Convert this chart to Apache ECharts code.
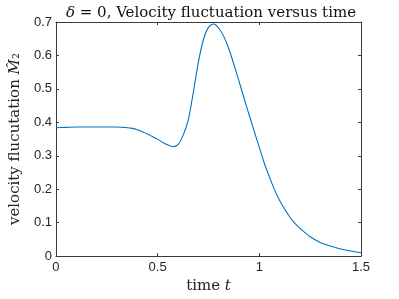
<!DOCTYPE html>
<html>
<head>
<meta charset="utf-8">
<script src="https://cdn.jsdelivr.net/npm/echarts@6/dist/echarts.min.js"></script>
<style>html,body{margin:0;padding:0;background:#fff;}#c{width:399px;height:299px;}</style>
</head>
<body>
<div id="c"></div>
<script>
var timeValues = [0.000,0.050,0.100,0.150,0.200,0.250,0.300,0.350,0.375,0.400,0.425,0.450,0.475,0.500,0.525,0.550,0.575,0.600,0.625,0.650,0.675,0.700,0.725,0.750,0.775,0.800,0.825,0.850,0.875,0.900,0.925,0.950,0.975,1.000,1.025,1.050,1.075,1.100,1.125,1.150,1.175,1.200,1.250,1.300,1.350,1.400,1.450,1.500];
var fluctValues = [0.384,0.385,0.386,0.386,0.386,0.386,0.386,0.384,0.382,0.378,0.372,0.365,0.357,0.349,0.340,0.332,0.327,0.333,0.361,0.406,0.488,0.579,0.647,0.684,0.694,0.682,0.657,0.620,0.573,0.523,0.472,0.422,0.373,0.325,0.277,0.236,0.198,0.166,0.140,0.117,0.098,0.083,0.058,0.041,0.030,0.021,0.015,0.010];
var xTicks = ['0','0.5','1','1.5'];
var yTicks = ['0','0.1','0.2','0.3','0.4','0.5','0.6','0.7'];
var titleText = '{i|δ} = 0, Velocity fluctuation versus time';
var xName = 'time {i|t}';
var yName = 'velocity flucutation {i|M̂}₂';

var data = timeValues.map(function(t,i){return [t, fluctValues[i]];});
var axisColor = '#3a3a3a';
var serif = '"DejaVu Serif","Liberation Serif",serif';
var sans = '"Liberation Sans",Arial,sans-serif';
var chart = echarts.init(document.getElementById('c'), null, {renderer:'canvas'});
function fmtX(v){ var s = String(+v.toFixed(2)); return xTicks.indexOf(s)>=0 ? s : ''; }
function fmtY(v){ var s = String(+v.toFixed(2)); return yTicks.indexOf(s)>=0 ? s : ''; }
var nameStyle = {fontFamily:serif,fontSize:15,color:'#222',rich:{i:{fontFamily:serif,fontStyle:'italic',fontSize:15,color:'#222'}}};
chart.setOption({
  animation:false,
  title:{text:titleText,left:206,textAlign:'center',top:1,
    textStyle:{fontFamily:serif,fontSize:15,fontWeight:'normal',color:'#111',
      rich:{i:{fontFamily:serif,fontStyle:'italic',fontSize:15,color:'#111'}}}},
  grid:{left:52,right:38,top:22,bottom:38,containLabel:false},
  xAxis:[{type:'value',min:0,max:1.5,interval:0.5,position:'bottom',
    name:xName,nameLocation:'middle',nameGap:19,nameTextStyle:nameStyle,
    axisLine:{show:true,lineStyle:{color:axisColor,width:1}},
    axisTick:{show:true,inside:true,length:3,lineStyle:{color:axisColor}},
    axisLabel:{formatter:fmtX,margin:5,fontFamily:sans,fontSize:13,color:'#262626'},
    splitLine:{show:false}},
   {type:'value',min:0,max:1.5,interval:0.5,position:'top',
    axisLine:{show:true,onZero:false,lineStyle:{color:axisColor,width:1}},
    axisTick:{show:true,inside:true,length:3,lineStyle:{color:axisColor}},
    axisLabel:{show:false},splitLine:{show:false}}],
  yAxis:[{type:'value',min:0,max:0.7,interval:0.1,position:'left',
    name:yName,nameLocation:'middle',nameGap:26,nameTextStyle:nameStyle,
    axisLine:{show:true,lineStyle:{color:axisColor,width:1}},
    axisTick:{show:true,inside:true,length:3,lineStyle:{color:axisColor}},
    axisLabel:{formatter:fmtY,margin:4,fontFamily:sans,fontSize:13,color:'#262626'},
    splitLine:{show:false}},
   {type:'value',min:0,max:0.7,interval:0.1,position:'right',
    axisLine:{show:true,onZero:false,lineStyle:{color:axisColor,width:1}},
    axisTick:{show:true,inside:true,length:3,lineStyle:{color:axisColor}},
    axisLabel:{show:false},splitLine:{show:false}}],
  series:[{type:'line',data:data,smooth:0.3,showSymbol:false,symbol:'none',
    lineStyle:{color:'#0072BD',width:1.1},xAxisIndex:0,yAxisIndex:0}]
});
</script>
</body>
</html>
